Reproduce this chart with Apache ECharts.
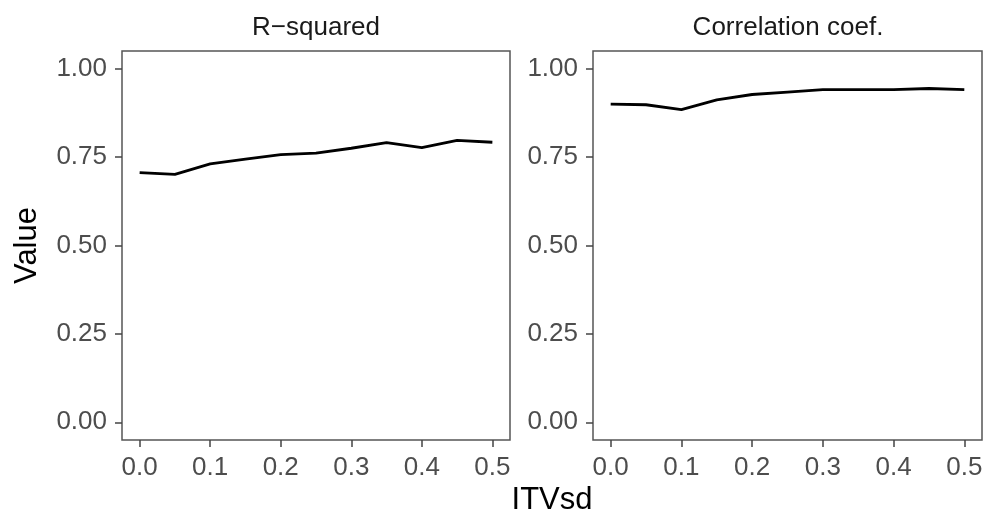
<!DOCTYPE html>
<html>
<head>
<meta charset="utf-8">
<script src="https://cdn.jsdelivr.net/npm/echarts@6/dist/echarts.min.js"></script>
<style>html,body{margin:0;padding:0;background:#fff;}#c{width:987px;height:523px;}</style>
</head>
<body>
<div id="c"></div>
<script>
const itvsd = [0, 0.05, 0.1, 0.15, 0.2, 0.25, 0.3, 0.35, 0.4, 0.45, 0.5];
const rSquared = [0.706, 0.701, 0.731, 0.744, 0.757, 0.761, 0.775, 0.791, 0.777, 0.797, 0.792];
const corrCoef = [0.900, 0.898, 0.884, 0.912, 0.927, 0.934, 0.941, 0.941, 0.941, 0.944, 0.941];
const panelTitles = ['R\u2212squared', 'Correlation coef.'];
const xTicks = [0, 0.1, 0.2, 0.3, 0.4, 0.5];
const yTicks = [0, 0.25, 0.5, 0.75, 1.0];

const FONT = '"Liberation Sans", Arial, Helvetica, sans-serif';
const grids = [
  {left: 122, top: 51, width: 388, height: 389},
  {left: 593, top: 51, width: 389, height: 389}
];

function xAxisFor(i) {
  return {
    type: 'value', gridIndex: i, min: -0.025, max: 0.525, position: 'bottom',
    splitLine: {show: false},
    axisLine: {show: false, onZero: false},
    axisTick: {show: true, customValues: xTicks, length: 7, lineStyle: {color: '#444', width: 1.5}},
    axisLabel: {show: true, customValues: xTicks, margin: 15, color: '#4d4d4d', fontSize: 26, fontFamily: FONT,
      formatter: v => v.toFixed(1)}
  };
}
function yAxisFor(i) {
  return {
    type: 'value', gridIndex: i, min: -0.05, max: 1.05, position: 'left',
    name: i === 0 ? 'Value' : '', nameLocation: 'middle', nameGap: 79,
    nameTextStyle: {color: '#000', fontSize: 31, fontFamily: FONT},
    splitLine: {show: false},
    axisLine: {show: false, onZero: false},
    axisTick: {show: true, customValues: yTicks, length: 7, lineStyle: {color: '#444', width: 1.5}},
    axisLabel: {show: true, customValues: yTicks, margin: 15, color: '#4d4d4d', fontSize: 26, fontFamily: FONT,
      formatter: v => v.toFixed(2)}
  };
}

const chart = echarts.init(document.getElementById('c'), null, {renderer: 'canvas'});
chart.setOption({
  animation: false,
  backgroundColor: '#fff',
  grid: grids.map(g => Object.assign({show: true, borderColor: '#555', borderWidth: 1.5, backgroundColor: '#fff'}, g)),
  xAxis: [xAxisFor(0), xAxisFor(1)],
  yAxis: [yAxisFor(0), yAxisFor(1)],
  graphic: [
    {type: 'text', x: 316, y: 28,
      style: {text: panelTitles[0], fill: '#1a1a1a', fontSize: 26, fontFamily: FONT, textAlign: 'center', textVerticalAlign: 'middle'}},
    {type: 'text', x: 788, y: 28,
      style: {text: panelTitles[1], fill: '#1a1a1a', fontSize: 26, fontFamily: FONT, textAlign: 'center', textVerticalAlign: 'middle'}},
    {type: 'text', x: 552, y: 500,
      style: {text: 'ITVsd', fill: '#000', fontSize: 31, fontFamily: FONT, textAlign: 'center', textVerticalAlign: 'middle'}}
  ],
  series: [
    {type: 'line', xAxisIndex: 0, yAxisIndex: 0, showSymbol: false, symbol: 'none',
      data: itvsd.map((x, k) => [x, rSquared[k]]), lineStyle: {color: '#000', width: 2.8}},
    {type: 'line', xAxisIndex: 1, yAxisIndex: 1, showSymbol: false, symbol: 'none',
      data: itvsd.map((x, k) => [x, corrCoef[k]]), lineStyle: {color: '#000', width: 2.8}}
  ]
});
</script>
</body>
</html>
